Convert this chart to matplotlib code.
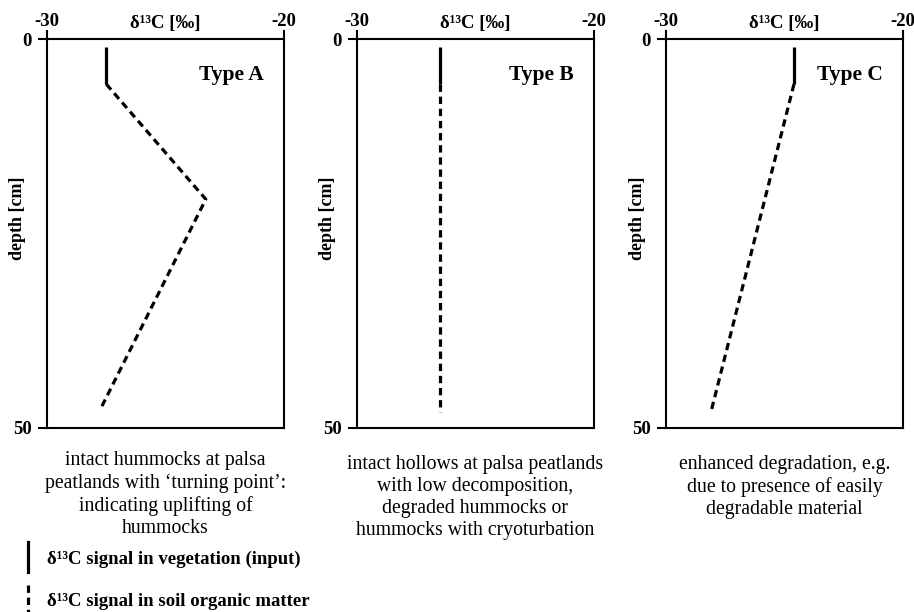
import matplotlib
matplotlib.use("Agg")
import matplotlib.pyplot as plt
from matplotlib.lines import Line2D

plt.rcParams['font.family'] = ['Liberation Serif', 'DejaVu Serif']
plt.rcParams['axes.unicode_minus'] = False

# depth profiles of d13C for the three conceptual types
types = ["Type A", "Type B", "Type C"]
veg_depth = [1, 5.8]
veg_d13c = [-27.5, -26.5, -24.6]
soil_depth = [[5.8, 20.6, 47.3], [5.8, 48.0], [5.8, 47.9]]
soil_d13c = [[-27.5, -23.3, -27.7], [-26.5, -26.5], [-24.6, -28.1]]
captions = [
    "intact hummocks at palsa\npeatlands with \u2018turning point\u2019:\nindicating uplifting of\nhummocks",
    "intact hollows at palsa peatlands\nwith low decomposition,\ndegraded hummocks or\nhummocks with cryoturbation",
    "enhanced degradation, e.g.\ndue to presence of easily\ndegradable material",
]
xticks = [-30, -20]
yticks = [0, 50]
legend_labels = ["\u03b4\u00b9\u00b3C signal in vegetation (input)",
                 "\u03b4\u00b9\u00b3C signal in soil organic matter"]

W, H = 914, 612
fig = plt.figure(figsize=(W / 100, H / 100), dpi=100)

lefts = [47, 357, 666]
cap_top = [-0.060, -0.070, -0.070]
dash = (0, (2.3, 1.5))
fs = 13.5

for i, left in enumerate(lefts):
    ax = fig.add_axes([left / W, 1 - 428 / H, 237 / W, 389 / H])
    ax.plot([veg_d13c[i]] * 2, veg_depth, color='black', lw=2.3, solid_capstyle='butt')
    ax.plot(soil_d13c[i], soil_depth[i], color='black', lw=2.3, linestyle=dash)

    ax.set_xlim(-30, -20)
    ax.set_ylim(50, 0)
    ax.set_xticks(xticks)
    ax.set_yticks(yticks)
    ax.xaxis.tick_top()
    ax.tick_params(axis='x', direction='out', length=6.5, width=1.5, pad=0, labelsize=fs)
    ax.tick_params(axis='y', direction='out', length=6.5, width=1.5, pad=4.5, labelsize=fs)
    for lab in ax.get_xticklabels() + ax.get_yticklabels():
        lab.set_fontweight('bold')
    for sp in ax.spines.values():
        sp.set_linewidth(1.5)

    ax.text(0.5, 1 + 11 / 389, "\u03b4\u00b9\u00b3C [\u2030]", transform=ax.transAxes,
            ha='center', va='baseline', fontsize=fs, fontweight='bold')
    ax.text(-29 / 237, 0.54, "depth [cm]", transform=ax.transAxes, rotation=90,
            ha='center', va='center', fontsize=13, fontweight='bold')
    ax.text(0.915, 1 - 36 / 389, types[i], transform=ax.transAxes,
            ha='right', va='center', fontsize=15.5, fontweight='bold')
    ax.text(0.5, cap_top[i], captions[i], transform=ax.transAxes,
            ha='center', va='top', fontsize=14.2, linespacing=1.22)

# legend drawn by hand below the first panel
fig.add_artist(Line2D([28 / W, 28 / W], [1 - 542 / H, 1 - 572 / H],
                      transform=fig.transFigure, color='black', lw=2.3))
fig.add_artist(Line2D([28 / W, 28 / W], [1 - 585 / H, 0],
                      transform=fig.transFigure, color='black', lw=2.3, linestyle=dash))
fig.text(47 / W, 1 - 559 / H, legend_labels[0], ha='left', va='center',
         fontsize=fs, fontweight='bold')
fig.text(47 / W, 1 - 601 / H, legend_labels[1], ha='left', va='center',
         fontsize=fs, fontweight='bold')

fig.savefig("out.png", dpi=100)
